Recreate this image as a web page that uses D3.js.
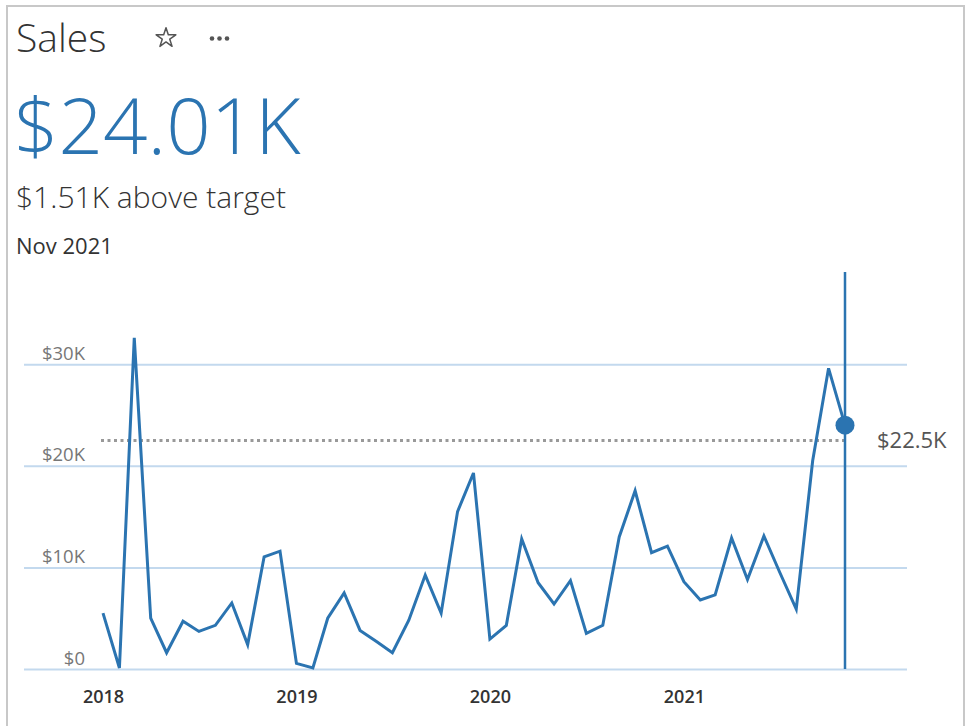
<!DOCTYPE html>
<meta charset="utf-8">
<script src="https://d3js.org/d3.v7.min.js"></script>
<style>
  body { margin: 0; background: #fff; }
  text { font-family: "Open Sans", "DejaVu Sans", sans-serif; }
</style>
<body>
<div id="sales_card"></div>
<script>

    // monthly sales, Jan 2018 .. Nov 2021
    var months = [
        "2018-01","2018-02","2018-03","2018-04","2018-05","2018-06","2018-07","2018-08","2018-09","2018-10","2018-11","2018-12",
        "2019-01","2019-02","2019-03","2019-04","2019-05","2019-06","2019-07","2019-08","2019-09","2019-10","2019-11","2019-12",
        "2020-01","2020-02","2020-03","2020-04","2020-05","2020-06","2020-07","2020-08","2020-09","2020-10","2020-11","2020-12",
        "2021-01","2021-02","2021-03","2021-04","2021-05","2021-06","2021-07","2021-08","2021-09","2021-10","2021-11"
    ];
    var sales = [
        5500, 100, 32600, 5000, 1600, 4700, 3700, 4300, 6500, 2400, 11050, 11600,
        550, 100, 5000, 7500, 3800, 2700, 1600, 4800, 9250, 5500, 15500, 19300,
        2950, 4300, 12800, 8500, 6400, 8700, 3500, 4300, 13000, 17550, 11450, 12100,
        8600, 6800, 7300, 12900, 8800, 13100, 9500, 5900, 20500, 29600, 24010
    ];
    var target = 22500;
    var yTicks = [0, 10000, 20000, 30000];
    var yTickLabels = ["$0", "$10K", "$20K", "$30K"];
    var xTickLabels = ["2018", "2019", "2020", "2021"];

    var blue = "#2b74b1";
    var W = 967, H = 726;

    var parse = d3.timeParse("%Y-%m");
    var data = months.map(function(m, i) { return {date: parse(m), value: sales[i]}; });
    var last = data[data.length - 1];

    var svg = d3.select("#sales_card")
        .append("svg")
        .attr("width", W)
        .attr("height", H);

    // card border
    svg.append("path")
        .attr("d", "M7," + H + "V6H964V" + H)
        .attr("fill", "none")
        .attr("stroke", "#c8c8c8")
        .attr("stroke-width", 2);

    // header
    svg.append("text").attr("x", 16).attr("y", 52)
        .style("font-size", "39px").style("font-weight", 300).attr("fill", "#333")
        .text("Sales");

    svg.append("path")
        .attr("d", d3.symbol(d3.symbolStar, 120)())
        .attr("transform", "translate(166,38)")
        .attr("fill", "none").attr("stroke", "#555").attr("stroke-width", 1.5)
        .attr("stroke-linejoin", "round");

    svg.selectAll(".dot3").data([212, 219.5, 227]).enter()
        .append("circle").attr("class", "dot3")
        .attr("cx", function(d) { return d; }).attr("cy", 38.5).attr("r", 2.3)
        .attr("fill", "#555");

    svg.append("text").attr("x", 14).attr("y", 154)
        .style("font-size", "78px").style("font-weight", 300).attr("fill", blue)
        .text("$24.01K");

    svg.append("text").attr("x", 16).attr("y", 208)
        .style("font-size", "30px").style("font-weight", 300).attr("fill", "#333")
        .text("$1.51K above target");

    svg.append("text").attr("x", 16).attr("y", 254)
        .style("font-size", "22px").attr("fill", "#333")
        .text("Nov 2021");

    // scales
    var x = d3.scaleTime()
        .domain([data[0].date, last.date])
        .range([103, 845]);

    var y = d3.scaleLinear()
        .domain([0, 30000])
        .range([669, 364.3]);

    // y gridlines + labels
    var yAxis = svg.append("g")
        .attr("transform", "translate(24,0)")
        .call(d3.axisRight(y)
            .tickValues(yTicks)
            .tickSize(883)
            .tickFormat(function(d, i) { return yTickLabels[i]; }));
    yAxis.select(".domain").remove();
    yAxis.selectAll("line")
        .attr("stroke", "#c3d9ee")
        .attr("stroke-width", 2);
    yAxis.selectAll("text")
        .attr("x", 61)
        .attr("dy", "-5")
        .attr("text-anchor", "end")
        .attr("fill", "#777")
        .style("font-size", "18.5px");

    // x axis labels
    var xAxis = svg.append("g")
        .attr("transform", "translate(0,669)")
        .call(d3.axisBottom(x)
            .ticks(d3.timeYear.every(1))
            .tickSize(0)
            .tickFormat(function(d, i) { return xTickLabels[i]; }));
    xAxis.select(".domain").remove();
    xAxis.selectAll("text")
        .attr("y", 21)
        .attr("dy", "0.71em")
        .attr("fill", "#333")
        .style("font-size", "18px")
        .style("font-weight", 600);

    // target line
    svg.append("line")
        .attr("x1", x(data[0].date) - 2).attr("x2", x(last.date))
        .attr("y1", y(target)).attr("y2", y(target))
        .attr("stroke", "#999").attr("stroke-width", 3)
        .attr("stroke-dasharray", "3,3.5");

    svg.append("text")
        .attr("x", 877).attr("y", y(target))
        .attr("dy", "0.35em")
        .attr("fill", "#555")
        .style("font-size", "22px")
        .text("$22.5K");

    // current month marker
    svg.append("line")
        .attr("x1", x(last.date)).attr("x2", x(last.date))
        .attr("y1", 272).attr("y2", y(0))
        .attr("stroke", blue).attr("stroke-width", 2.5);

    // sales line
    svg.append("path")
        .datum(data)
        .attr("fill", "none")
        .attr("stroke", blue)
        .attr("stroke-width", 3)
        .attr("stroke-linejoin", "miter")
        .attr("d", d3.line()
            .x(function(d) { return x(d.date); })
            .y(function(d) { return y(d.value); }));

    svg.append("circle")
        .attr("cx", x(last.date))
        .attr("cy", y(last.value))
        .attr("r", 9.5)
        .attr("fill", blue);

</script>
</body>
